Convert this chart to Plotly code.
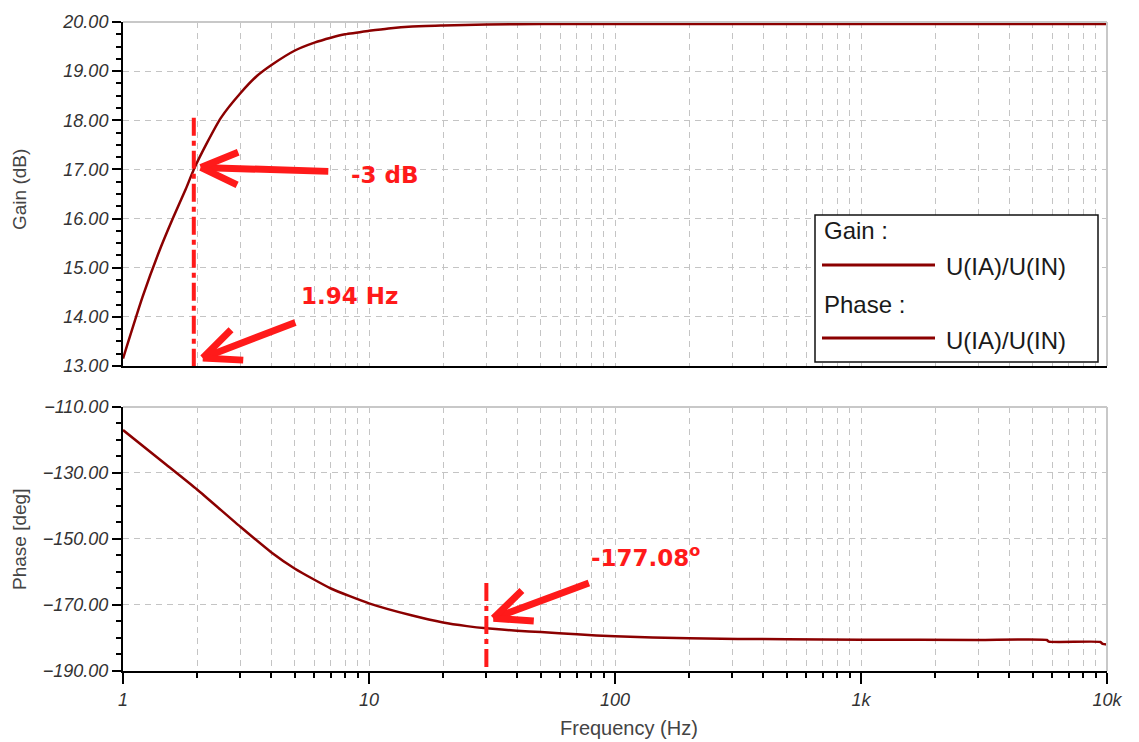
import math
import plotly.graph_objects as go

# Frequency response of the amplifier stage U(IA)/U(IN)
freq_gain = [1, 1.2, 1.4, 1.6, 1.8, 1.94, 2.2, 2.5, 3, 3.5, 4, 5, 6, 7, 8, 10,
             12, 15, 20, 30, 50, 100, 300, 1000, 3000, 10000]
gain_db = [13.15, 14.4, 15.32, 16.02, 16.6, 17.0, 17.55, 18.05, 18.55, 18.9, 19.12,
           19.42, 19.58, 19.68, 19.75, 19.82, 19.87, 19.91, 19.93, 19.95, 19.96,
           19.96, 19.96, 19.96, 19.96, 19.96]

freq_phase = [1, 1.5, 2, 3, 4, 5, 7, 10, 15, 20, 25, 30, 40, 50, 70, 100, 200,
              500, 1000, 3000, 5700, 5800, 9400, 9600, 10000]
phase_deg = [-117.0, -127.5, -135.0, -146.3, -154.0, -159.0, -165.0, -169.5,
             -173.2, -175.3, -176.4, -177.08, -177.8, -178.2, -178.9, -179.5,
             -180.1, -180.4, -180.5, -180.6, -180.6, -181.1, -181.2, -181.8, -182.0]

# Markers: -3 dB corner and phase read-out
corner_freq = 1.94
corner_gain = 17.0
phase_mark_freq = 30
phase_mark_value = -177.08

gain_range = [13, 20]
phase_range = [-190, -110]
x_tickvals = [1, 10, 100, 1000, 10000]
x_ticktext = ["1", "10", "100", "1k", "10k"]
x_minor = [m * 10 ** d for d in range(4) for m in range(2, 10)]

CURVE = "#8b0000"
RED = "#ff1a1a"
GRID = "#c4c4c4"
TXT = "#333333"
FONT = "Liberation Sans, Arial, sans-serif"

fig = go.Figure()
fig.add_trace(go.Scatter(x=freq_gain, y=gain_db, mode="lines",
                         line=dict(color=CURVE, width=2.5, shape="spline", smoothing=0.6),
                         xaxis="x", yaxis="y", showlegend=False))
fig.add_trace(go.Scatter(x=freq_phase, y=phase_deg, mode="lines",
                         line=dict(color=CURVE, width=2.5, shape="spline", smoothing=0.5),
                         xaxis="x2", yaxis="y2", showlegend=False))

# dash-dot cursor lines
fig.add_trace(go.Scatter(x=[corner_freq, corner_freq], y=[18.05, gain_range[0]],
                         mode="lines", line=dict(color=RED, width=4, dash="18px,5px,5px,5px"),
                         xaxis="x", yaxis="y", showlegend=False, hoverinfo="skip"))
fig.add_trace(go.Scatter(x=[phase_mark_freq, phase_mark_freq], y=[-163.3, phase_range[0]],
                         mode="lines", line=dict(color=RED, width=4, dash="18px,5px,5px,5px"),
                         xaxis="x2", yaxis="y2", showlegend=False, hoverinfo="skip"))

common_x = dict(type="log", range=[0, 4], showgrid=True, gridcolor=GRID, griddash="6px,5px",
                gridwidth=1, zeroline=False, showline=True, linecolor="#000000", linewidth=2,
                automargin=False)
minor_x = dict(tickvals=x_minor, showgrid=True, gridcolor=GRID, griddash="6px,5px",
               gridwidth=1)

tickfont = dict(family=FONT, size=18, color=TXT, style="italic")
titlefont = dict(family=FONT, size=19, color="#444444")

fig.update_layout(
    width=1139, height=742,
    margin=dict(l=123, r=32, t=22, b=71),
    paper_bgcolor="white", plot_bgcolor="white",
    xaxis=dict(**common_x, domain=[0, 1], anchor="y", tickvals=x_tickvals,
               showticklabels=False, ticks="", minor=dict(**minor_x, ticks="")),
    yaxis=dict(domain=[0.47, 1], anchor="x", range=gain_range, dtick=1, tick0=13,
               tickformat=".2f", ticks="outside", ticklen=9, tickwidth=1.5,
               tickcolor="#000000", showline=True, linecolor="#000000", linewidth=2,
               showgrid=True, gridcolor=GRID, griddash="6px,5px", zeroline=False,
               tickfont=tickfont, automargin=False,
               minor=dict(dtick=0.25, ticks="outside", ticklen=5, tickcolor="#000000",
                          showgrid=False)),
    xaxis2=dict(**common_x, domain=[0, 1], anchor="y2", matches="x",
                tickvals=x_tickvals, ticktext=x_ticktext, ticks="outside", ticklen=11,
                tickwidth=1.5, tickcolor="#000000", tickfont=tickfont,
                minor=dict(**minor_x, ticks="outside", ticklen=5, tickcolor="#000000")),
    yaxis2=dict(domain=[0, 0.4068], anchor="x2", range=phase_range, dtick=20, tick0=-190,
                tickformat=".2f", ticks="outside", ticklen=9, tickwidth=1.5,
                tickcolor="#000000", showline=True, linecolor="#000000", linewidth=2,
                showgrid=True, gridcolor=GRID, griddash="6px,5px", zeroline=False,
                tickfont=tickfont, automargin=False,
                minor=dict(dtick=5, ticks="outside", ticklen=5, tickcolor="#000000",
                           showgrid=False)),
)

shapes = []
# light top / right frame of each panel
for xa, ya in (("x", "y"), ("x2", "y2")):
    shapes.append(dict(type="line", xref=f"{xa} domain", yref=f"{ya} domain",
                       x0=0, x1=1, y0=1, y1=1, line=dict(color="#c8c8c8", width=2)))
    shapes.append(dict(type="line", xref=f"{xa} domain", yref=f"{ya} domain",
                       x0=1, x1=1, y0=0, y1=1, line=dict(color="#c8c8c8", width=2)))

# page-pixel helpers for the overlay elements
PLOT_W, PLOT_H, L, B = 984, 649, 123, 71
H_TOT = 742


def px(xp):
    return (xp - L) / PLOT_W


def py(yp):
    return (H_TOT - B - yp) / PLOT_H


# legend box
shapes.append(dict(type="rect", xref="paper", yref="paper", x0=px(815), x1=px(1098),
                   y0=py(362), y1=py(215), line=dict(color="#111111", width=1.5),
                   fillcolor="white", layer="above"))
for yl in (265, 338):
    shapes.append(dict(type="line", xref="paper", yref="paper", x0=px(822), x1=px(935),
                       y0=py(yl), y1=py(yl), line=dict(color=CURVE, width=3), layer="above"))
fig.update_layout(shapes=shapes)

annotations = []
LEG_FONT = dict(family=FONT, size=24, color="#1a1a1a")
for text, xl, yc in (("Gain :", 822, 230), ("U(IA)/U(IN)", 944, 266),
                     ("Phase :", 822, 304), ("U(IA)/U(IN)", 944, 340)):
    annotations.append(dict(text=text, xref="paper", yref="paper", x=px(xl), y=py(yc),
                            xanchor="left", yanchor="middle", showarrow=False,
                            font=LEG_FONT))

# axis titles
annotations.append(dict(text="Gain (dB)", xref="paper", yref="paper", x=px(19), y=py(190),
                        xanchor="center", yanchor="middle", textangle=-90,
                        showarrow=False, font=titlefont))
annotations.append(dict(text="Phase [deg]", xref="paper", yref="paper", x=px(19), y=py(540),
                        xanchor="center", yanchor="middle", textangle=-90,
                        showarrow=False, font=titlefont))
annotations.append(dict(text="Frequency (Hz)", xref="paper", yref="paper", x=px(629),
                        y=py(728), xanchor="center", yanchor="middle",
                        showarrow=False, font=dict(titlefont, size=20)))


def arrow(xa, ya, x, y, tail_dx, tail_dy, xshift, yshift):
    """Thick red arrow: shaft plus two head strokes, offsets in pixels."""
    items = []
    base = dict(xref=xa, yref=ya, x=math.log10(x), y=y, axref="pixel", ayref="pixel",
                text="", showarrow=True, arrowhead=0, arrowcolor=RED, standoff=0,
                startstandoff=0, xshift=xshift, yshift=yshift)
    items.append(dict(base, ax=tail_dx, ay=tail_dy, arrowwidth=7))
    ang = math.atan2(tail_dy, tail_dx)
    for s in (-1, 1):
        a = ang + s * math.radians(24)
        items.append(dict(base, ax=42 * math.cos(a), ay=42 * math.sin(a), arrowwidth=7))
    return items


annotations += arrow("x", "y", corner_freq, corner_gain, 129, 4, 7, 2)
annotations += arrow("x", "y", corner_freq, gain_range[0], 94, -36, 9, 8)
annotations += arrow("x2", "y2", phase_mark_freq, phase_mark_value, 97, -36, 7, 10)

LBL_FONT = dict(family="DejaVu Sans, sans-serif", size=23, color=RED, weight="bold")
annotations.append(dict(text="-3 dB", xref="paper", yref="paper", x=px(349), y=py(175),
                        xanchor="left", yanchor="middle", showarrow=False, font=LBL_FONT))
annotations.append(dict(text=f"{corner_freq:.2f} Hz", xref="paper", yref="paper",
                        x=px(299), y=py(296), xanchor="left", yanchor="middle",
                        showarrow=False, font=LBL_FONT))
annotations.append(dict(text=f"{phase_mark_value:.2f}<sup>o</sup>", xref="paper",
                        yref="paper", x=px(589), y=py(556), xanchor="left",
                        yanchor="middle", showarrow=False, font=LBL_FONT))
fig.update_layout(annotations=annotations)

fig.write_html("out.html")
